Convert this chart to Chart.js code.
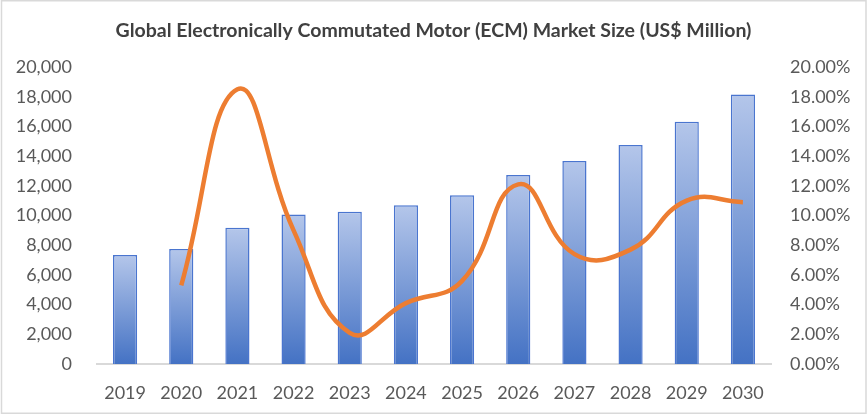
<!DOCTYPE html>
<html>
<head>
<meta charset="utf-8">
<script src="https://cdn.jsdelivr.net/npm/chart.js@4"></script>
<style>
html,body{margin:0;padding:0;background:#fff;}
#wrap{width:867px;height:416px;position:relative;}
</style>
</head>
<body>
<div id="wrap"><canvas id="c" width="867" height="416"></canvas></div>
<script>
const years = ['2019','2020','2021','2022','2023','2024','2025','2026','2027','2028','2029','2030'];
const marketSize = [7340, 7750, 9170, 10075, 10260, 10690, 11365, 12720, 13670, 14750, 16310, 18140];
const growthRate = [null, 5.3, 18.5, 9.0, 2.1, 4.1, 5.6, 12.1, 7.4, 7.7, 11.0, 10.9];
const leftTicks = [0, 2000, 4000, 6000, 8000, 10000, 12000, 14000, 16000, 18000, 20000];
const rightTicks = [0, 2, 4, 6, 8, 10, 12, 14, 16, 18, 20];

const FONT = 'Lato, "Open Sans", sans-serif';

function barGradient(ctx) {
  const chart = ctx.chart;
  const area = chart.chartArea;
  if (!area || ctx.parsed == null) return '#7f9fdc';
  const ys = chart.scales.y;
  const top = ys.getPixelForValue(ctx.parsed.y);
  const bottom = ys.getPixelForValue(0);
  const g = chart.ctx.createLinearGradient(0, top, 0, bottom);
  g.addColorStop(0, '#b4c6ea');
  g.addColorStop(1, '#4472c4');
  return g;
}

const frame = {
  id: 'frame',
  afterDraw(chart) {
    const c = chart.ctx;
    c.save();
    c.strokeStyle = '#d9d9d9';
    c.lineWidth = 1.5;
    c.strokeRect(1.5, 0.75, 864.5, 412.5);
    c.restore();
  }
};

new Chart(document.getElementById('c'), {
  data: {
    labels: years,
    datasets: [
      {
        type: 'line',
        data: growthRate,
        yAxisID: 'y1',
        borderColor: '#ed7d31',
        borderWidth: 4.5,
        pointRadius: 0,
        tension: 0.45,
        cubicInterpolationMode: 'default',
        spanGaps: false,
        order: 0
      },
      {
        type: 'bar',
        data: marketSize,
        yAxisID: 'y',
        backgroundColor: barGradient,
        borderColor: '#4a75cf',
        borderWidth: 1.5,
        categoryPercentage: 1,
        barPercentage: 0.43,
        order: 1
      }
    ]
  },
  plugins: [frame],
  options: {
    responsive: false,
    animation: false,
    devicePixelRatio: 1,
    layout: { padding: { top: 0, right: 0, bottom: 0, left: 0 } },
    plugins: {
      legend: { display: false },
      tooltip: { enabled: false },
      title: {
        display: true,
        text: 'Global Electronically Commutated Motor (ECM) Market Size (US$ Million)',
        color: '#404040',
        font: { family: FONT, size: 19.5, weight: 'bold' },
        padding: { top: 19, bottom: 24.6 }
      }
    },
    scales: {
      x: {
        grid: { display: false, drawTicks: false },
        border: { display: true, color: '#d9d9d9', width: 2 },
        ticks: { color: '#595959', font: { family: FONT, size: 18 }, padding: 18, maxRotation: 0 },
        afterFit(s) { s.height = 52; }
      },
      y: {
        position: 'left',
        min: 0, max: 20000,
        afterBuildTicks(s) { s.ticks = leftTicks.map(v => ({ value: v })); },
        grid: { display: false, drawTicks: false },
        border: { display: false },
        ticks: {
          color: '#595959', font: { family: FONT, size: 18 }, padding: 25,
          callback: v => v.toLocaleString('en-US')
        },
        afterFit(s) { s.width = 97; }
      },
      y1: {
        position: 'right',
        min: 0, max: 20,
        afterBuildTicks(s) { s.ticks = rightTicks.map(v => ({ value: v })); },
        grid: { display: false, drawTicks: false },
        border: { display: false },
        ticks: {
          color: '#595959', font: { family: FONT, size: 18 }, padding: 19,
          callback: v => v.toFixed(2) + '%'
        },
        afterFit(s) { s.width = 96; }
      }
    }
  }
});
</script>
</body>
</html>
